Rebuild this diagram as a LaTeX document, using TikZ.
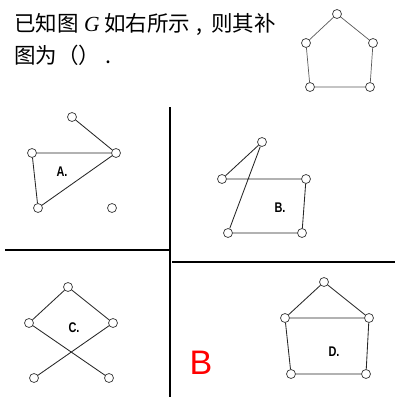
\documentclass[tikz,border=0pt]{standalone}
\usepackage{fontspec}
\newfontfamily\cjk{Noto Sans CJK SC}
\newfontfamily\lab{Liberation Sans}
\newfontfamily\labn[FakeStretch=0.78]{Liberation Sans}
\newfontfamily\tms{Liberation Serif}
\begin{document}
\begin{tikzpicture}[x=1pt,y=-1pt,
  vtx/.style={circle,draw=black!75,fill=white,line width=0.75pt,minimum size=9pt,inner sep=0pt},
  gedge/.style={draw=black!85,line width=0.85pt},
  pedge/.style={draw=black!65,line width=0.7pt},
  divider/.style={draw=black,line width=1.1pt},
  txt/.style={inner sep=0pt,anchor=base west,font=\cjk\fontsize{21.5}{24}\selectfont},
  lbl/.style={inner sep=0pt,font=\labn\bfseries\fontsize{14}{16}\selectfont}]
\useasboundingbox (0,0) rectangle (400,400);
% question text
\node[txt] (t1) at (14,31) {已知图};
\node[txt] (tg) at (84,31) {\tms\itshape G};
\node[txt] (t2) at (104,31) {如右所示};
\node[txt] (tc) at (196,31) {,};
\node[txt] (t3) at (211,31) {则其补};
\node[txt] (t4) at (14,63) {图为（）};
\node[txt] (t5) at (105,63) {.};
% graph G
\node[vtx] (g1) at (337,14) {};
\node[vtx] (g2) at (306,43) {};
\node[vtx] (g3) at (373,43) {};
\node[vtx] (g4) at (310,87) {};
\node[vtx] (g5) at (370,87) {};
\path[pedge] (g1)--(g2) (g1)--(g3) (g2)--(g4) (g3)--(g5) (g4)--(g5);
% dividers
\coordinate (v1) at (170,107);
\coordinate (v2) at (170,397);
\coordinate (h1) at (5,250);
\coordinate (h2) at (170,250);
\coordinate (h3) at (172,262);
\coordinate (h4) at (395,262);
\path[divider] (v1)--(v2) (h1)--(h2) (h3)--(h4);
% A
\node[vtx] (a1) at (72,117) {};
\node[vtx] (a2) at (32,153) {};
\node[vtx] (a3) at (116,153) {};
\node[vtx] (a4) at (38,208) {};
\node[vtx] (a5) at (112,208) {};
\path[gedge] (a1)--(a3) (a2)--(a3) (a2)--(a4) (a4)--(a3);
\node[lbl] (la) at (62,172) {A.};
% B
\node[vtx] (b1) at (262,142) {};
\node[vtx] (b2) at (222,179) {};
\node[vtx] (b3) at (306,179) {};
\node[vtx] (b4) at (228,233) {};
\node[vtx] (b5) at (302,233) {};
\path[gedge] (b1)--(b2) (b1)--(b4) (b2)--(b3) (b3)--(b5) (b4)--(b5);
\node[lbl] (lb) at (280,208) {B.};
% C
\node[vtx] (c1) at (68,287) {};
\node[vtx] (c2) at (29,323) {};
\node[vtx] (c3) at (113,323) {};
\node[vtx] (c4) at (34,378) {};
\node[vtx] (c5) at (109,378) {};
\path[gedge] (c1)--(c2) (c1)--(c3) (c2)--(c5) (c3)--(c4);
\node[lbl] (lc) at (74,328) {C.};
% D
\node[vtx] (d1) at (324,282) {};
\node[vtx] (d2) at (285,318) {};
\node[vtx] (d3) at (369,318) {};
\node[vtx] (d4) at (291,374) {};
\node[vtx] (d5) at (366,374) {};
\path[gedge] (d1)--(d2) (d1)--(d3) (d2)--(d3) (d2)--(d4) (d3)--(d5) (d4)--(d5);
\node[lbl] (ld) at (334,352) {D.};
% answer
\node[inner sep=0pt,text=red,font=\lab\fontsize{34}{36}\selectfont] (ans) at (201,363) {B};
\end{tikzpicture}
\end{document}
